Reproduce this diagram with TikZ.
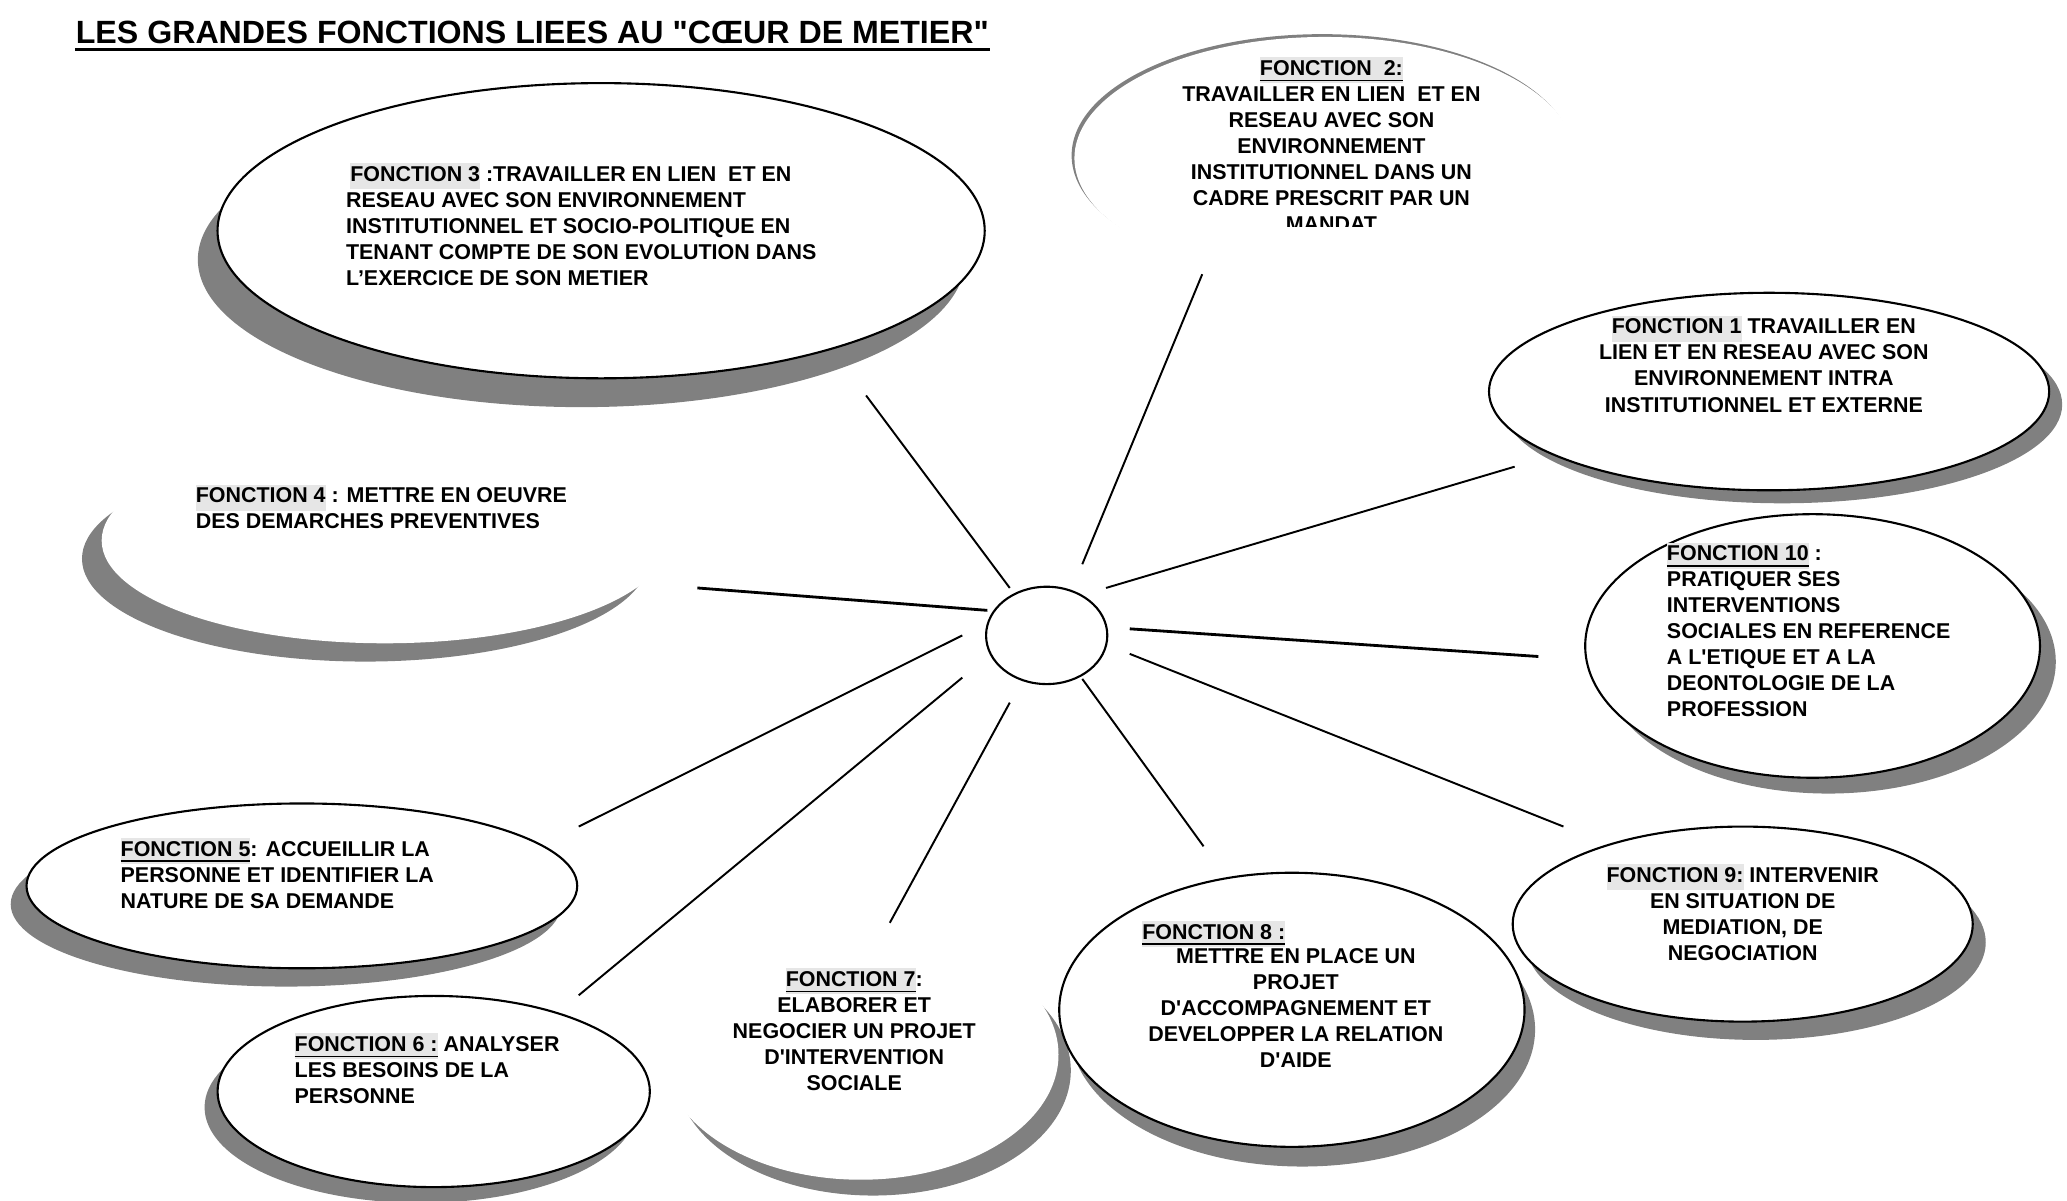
\documentclass[tikz,border=0pt]{standalone}
\usepackage{fontspec}
\setmainfont{Liberation Sans}
\newfontfamily\arl{Liberation Sans}
\usetikzlibrary{shapes.geometric,shadows}

\definecolor{shadowgray}{RGB}{128,128,128}
\definecolor{hlgray}{RGB}{230,230,230}

% highlighted / highlighted+underlined function names
\newcommand{\fhl}[1]{{\fboxsep=0pt\colorbox{hlgray}{\strut #1}}}
\newcommand{\fhu}[1]{\fhl{\underline{#1}}}

\tikzset{
  bubble/.style={ellipse, draw=black, line width=0.6pt, fill=white, inner sep=0pt},
  bare/.style={ellipse, draw=none, fill=white, inner sep=0pt},
  dims/.style 2 args={minimum width=#1, minimum height=#2},
  shd/.style 2 args={drop shadow={shadow xshift=#1, shadow yshift=#2, fill=shadowgray, opacity=1}},
  lbl/.style={inner sep=0pt, anchor=north west, align=left,
    font=\arl\bfseries\fontsize{6.1}{7.4}\selectfont, execute at begin node={\strut}},
  clbl/.style={lbl, anchor=north, align=center},
  spoke/.style={line width=0.55pt},
  thickspoke/.style={line width=0.8pt}
}

\begin{document}
\begin{tikzpicture}[x=0.01318cm, y=-0.01318cm]
\useasboundingbox (0,0) rectangle (1568,911);

% title
\node[anchor=base west, inner sep=0pt, font=\arl\bfseries\fontsize{9.15}{11}\selectfont] (title) at (57,33)
  {LES GRANDES FONCTIONS LIEES AU "CŒUR DE METIER"};
\draw[line width=1.1pt] ([yshift=-1.7pt]title.base west) -- ([yshift=-1.7pt]title.base east);

% bubbles
\node[bare, dims={142.5pt}{69pt}, shd={-0.8pt}{0.8pt}] (f2) at (1005,120) {};
\node[bubble, dims={218.3pt}{84pt}, shd={-5.6pt}{-8.2pt}] (f3) at (456,175) {};
\node[bare, dims={161.2pt}{58.5pt}, shd={-5.6pt}{-5.2pt}] (f4) at (292,410) {};
\node[bubble, dims={159.4pt}{56.2pt}, shd={3.7pt}{-3.7pt}] (f1) at (1342,297) {};
\node[bubble, dims={129.4pt}{75pt}, shd={4.5pt}{-4.5pt}] (f10) at (1375,490) {};
\node[bubble, dims={156.7pt}{46.9pt}, shd={-4.5pt}{-5.2pt}] (f5) at (229,672) {};
\node[bubble, dims={123pt}{54.4pt}, shd={-3.7pt}{-4.5pt}] (f6) at (329,828) {};
\node[bare, dims={112.5pt}{71.2pt}, shd={3.5pt}{-4.5pt}] (f7) at (653,800) {};
\node[bubble, dims={132.4pt}{78pt}, shd={3pt}{-5.6pt}] (f8) at (980,766) {};
\node[bubble, dims={130.9pt}{55.5pt}, shd={3.7pt}{-5.2pt}] (f9) at (1322,701) {};
\node[bubble, dims={34.5pt}{27.7pt}] (c) at (794,482) {};

% spokes
\coordinate (s1) at (766,446);  \coordinate (e1) at (657,300);
\coordinate (s2) at (821,428);  \coordinate (e2) at (912,208);
\coordinate (s3) at (839,446);  \coordinate (e3) at (1149,354);
\coordinate (s4) at (857,477);  \coordinate (e4) at (1167,498);
\coordinate (s5) at (857,496);  \coordinate (e5) at (1186,627);
\coordinate (s6) at (821,515);  \coordinate (e6) at (913,642);
\coordinate (s7) at (766,533);  \coordinate (e7) at (675,700);
\coordinate (s8) at (730,514);  \coordinate (e8) at (439,755);
\coordinate (s9) at (730,482);  \coordinate (e9) at (439,627);
\coordinate (s10) at (749,463); \coordinate (e10) at (529,446);
\path[spoke]
    (s1) edge (e1)
    (s2) edge (e2)
    (s3) edge (e3)
    (s5) edge (e5)
    (s6) edge (e6)
    (s7) edge (e7)
    (s8) edge (e8)
    (s9) edge (e9);
\path[thickspoke]
    (s4) edge (e4)
    (s10) edge (e10);

% texts
\node[lbl] (t3) at (262,123) {\hspace*{1.2pt}\fhl{FONCTION 3} :TRAVAILLER EN LIEN\ \ ET EN\\
  RESEAU AVEC SON ENVIRONNEMENT\\ INSTITUTIONNEL ET SOCIO-POLITIQUE EN\\
  TENANT COMPTE DE SON EVOLUTION DANS\\ L’EXERCICE DE SON METIER};
\begin{scope}
  \clip (815,25) rectangle (1200,172);
  \node[clbl] (t2) at (1010,43) {\fhu{FONCTION\ \ 2:}\\ TRAVAILLER EN LIEN\ \ ET EN\\ RESEAU AVEC SON\\
    ENVIRONNEMENT\\ INSTITUTIONNEL DANS UN\\ CADRE PRESCRIT PAR UN\\ MANDAT};
\end{scope}
\node[clbl] (t1) at (1338,239) {\fhl{FONCTION 1} TRAVAILLER EN\\ LIEN ET EN RESEAU AVEC SON\\
  ENVIRONNEMENT INTRA\\ INSTITUTIONNEL ET EXTERNE};
\node[lbl] (t10) at (1264,411) {\fhu{FONCTION 10} :\\ PRATIQUER SES\\ INTERVENTIONS\\
  SOCIALES EN REFERENCE\\ A L'ETIQUE ET A LA\\ DEONTOLOGIE DE LA\\ PROFESSION};
\node[clbl] (t9) at (1322,655) {\fhl{FONCTION 9:} INTERVENIR\\ EN SITUATION DE\\ MEDIATION, DE\\ NEGOCIATION};
\node[lbl] (t8a) at (866,698) {\fhu{FONCTION 8 :}};
\node[clbl] (t8) at (983,719) {METTRE EN PLACE UN\\ PROJET\\ D'ACCOMPAGNEMENT ET\\
  DEVELOPPER LA RELATION\\ D'AIDE};
\node[clbl] (t7) at (648,734) {\fhu{FONCTION 7}:\\ ELABORER ET\\ NEGOCIER UN PROJET\\ D'INTERVENTION\\ SOCIALE};
\node[lbl] (t6) at (223,783) {\fhu{FONCTION 6 :} ANALYSER\\ LES BESOINS DE LA\\ PERSONNE};
\node[lbl] (t5) at (91,635) {\fhu{FONCTION 5}: ACCUEILLIR LA\\ PERSONNE ET IDENTIFIER LA\\ NATURE DE SA DEMANDE};
\node[lbl] (t4) at (148,367) {\fhl{FONCTION 4} : METTRE EN OEUVRE\\ DES DEMARCHES PREVENTIVES};
\end{tikzpicture}
\end{document}
